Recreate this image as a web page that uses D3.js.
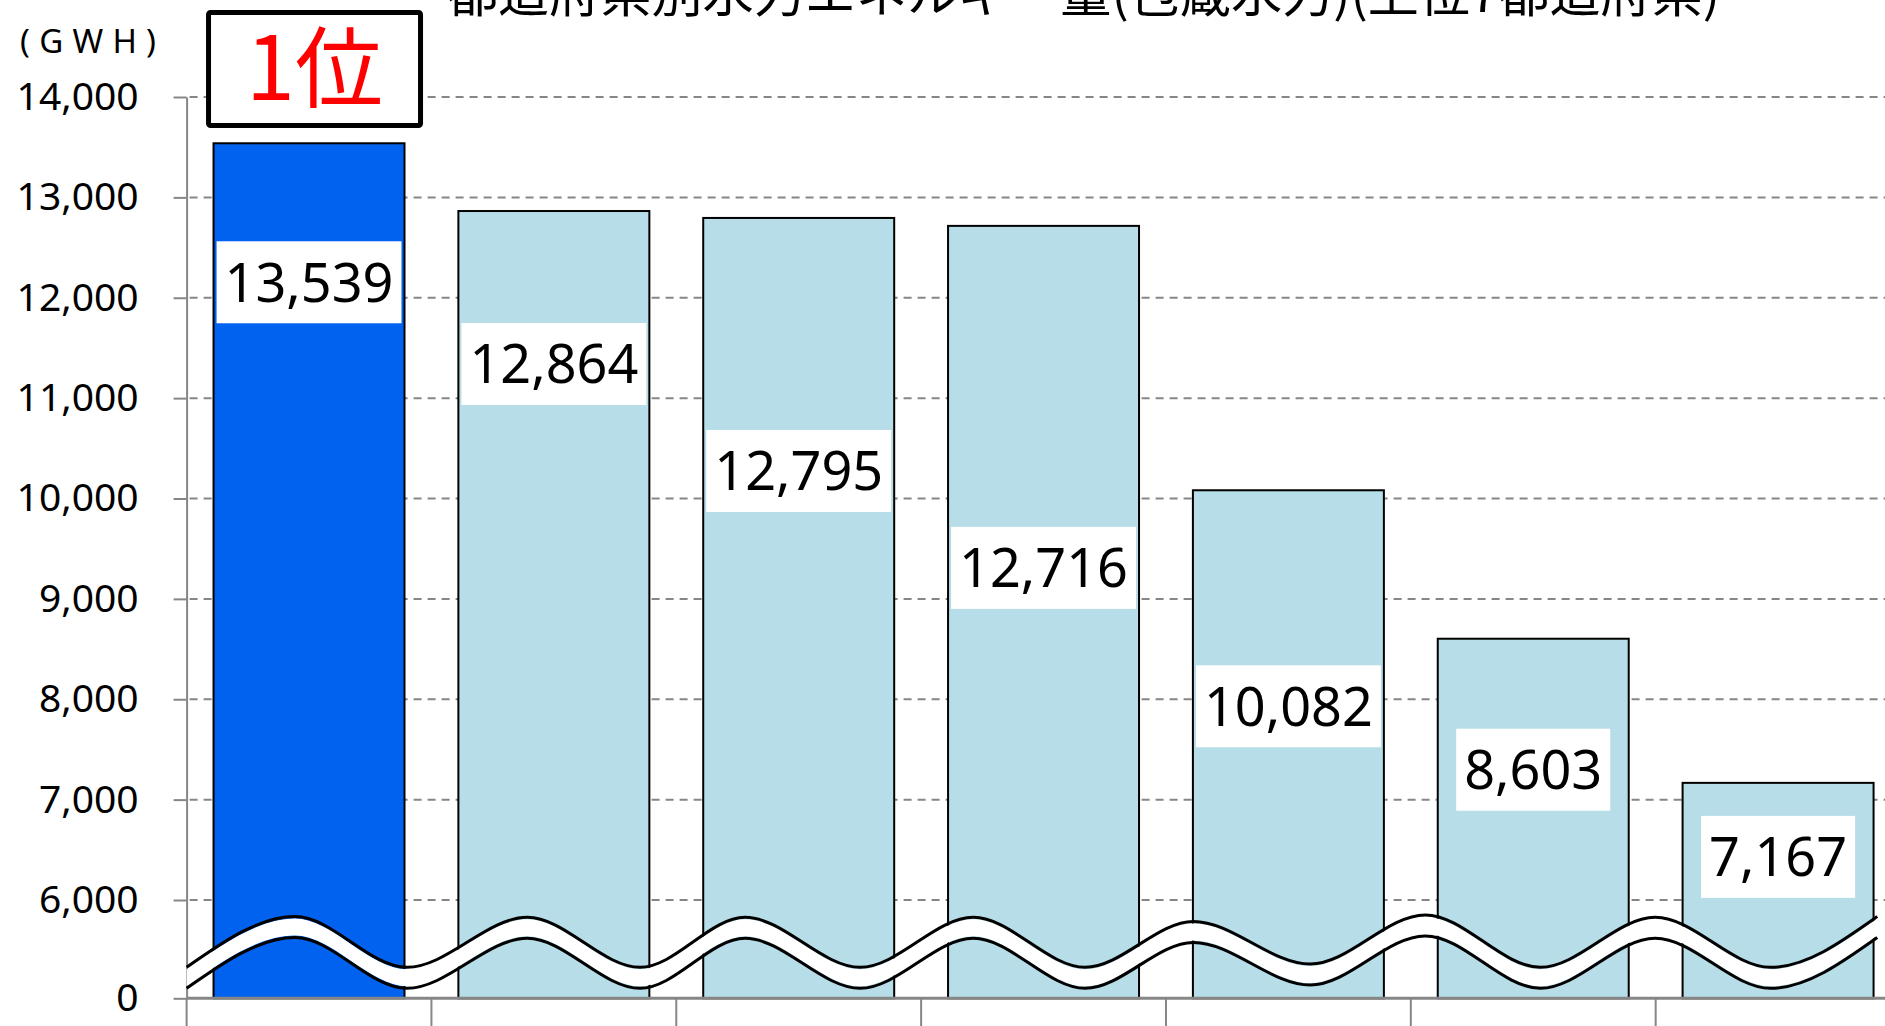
<!DOCTYPE html>
<html>
<head>
<meta charset="utf-8">
<script src="https://cdn.jsdelivr.net/npm/d3@7"></script>
<style>
  body { margin: 0; background: #fff; overflow: hidden; }
  svg { display: block; }
</style>
</head>
<body>
<div class="chart"></div>
<script>
// ---- data ----
const categories = ["1位", "2位", "3位", "4位", "5位", "6位", "7位"];
const values = [13539, 12864, 12795, 12716, 10082, 8603, 7167];
const yTickValues = [0, 6000, 7000, 8000, 9000, 10000, 11000, 12000, 13000, 14000];
const gridValues = [6000, 7000, 8000, 9000, 10000, 11000, 12000, 13000, 14000];
const titleText = "都道府県別水力エネルギー量(包蔵水力)(上位7都道府県)";
const unitText = "(GWH)";
const rankText = "1位";

// break mark (wavy line) nodes: position in category units, value on the squeezed 0-6000 part
const waveAt    = [0, 0.443, 0.900, 1.391, 1.852, 2.281, 2.751, 3.213, 3.670, 4.112, 4.589, 5.059, 5.529, 5.998, 6.469, 6.905];
const waveValue = [1250, 4350, 1250, 4300, 1250, 4300, 1250, 4300, 1250, 4050, 1450, 4450, 1250, 4300, 1250, 4350];

// how far (px) each value box centre hangs below its bar top
const labelDrop = [139, 153, 253, 342, 216, 131, 74];

var width = 1885,
    height = 1026,
    axisColor = "#868686";

var plot = {left: 186.6, right: 1900.5, top: 97, bottom: 998.3};

const svg = d3.select(".chart").append("svg")
    .attr("width", width)
    .attr("height", height);

// axis is broken: 0-6000 squeezed into the bottom strip
var y = d3.scaleLinear()
    .domain([0, 6000, 14000])
    .range([plot.bottom, 900, plot.top]);

var x = d3.scaleBand()
    .domain(categories)
    .range([plot.left, plot.right])
    .paddingInner(0.22)
    .paddingOuter(0.11);

var xPos = d3.scaleLinear()
    .domain([0, categories.length])
    .range([plot.left, plot.right]);

// gridlines
svg.append("g")
  .selectAll("line")
  .data(gridValues)
  .enter().append("line")
    .attr("x1", plot.left + 3)
    .attr("x2", width)
    .attr("y1", d => y(d))
    .attr("y2", d => y(d))
    .attr("stroke", axisColor)
    .attr("stroke-width", 2)
    .attr("stroke-dasharray", "8,6");

// bars
svg.append("g")
  .selectAll("rect")
  .data(values)
  .enter().append("rect")
    .attr("x", (d, i) => x(categories[i]))
    .attr("y", d => y(d))
    .attr("width", x.bandwidth())
    .attr("height", d => plot.bottom - y(d))
    .attr("fill", (d, i) => i === 0 ? "#0062EE" : "#B7DDE8")
    .attr("stroke", "#000")
    .attr("stroke-width", 2);

// y axis
var yAxis = svg.append("g")
    .attr("transform", `translate(${plot.left}, 0)`)
    .call(d3.axisLeft(y)
      .tickValues(yTickValues)
      .tickSize(13)
      .tickSizeOuter(0)
      .tickPadding(35)
      .tickFormat(d3.format(",")));

yAxis.select(".domain").attr("stroke", axisColor).attr("stroke-width", 2);
yAxis.selectAll(".tick line").attr("stroke", axisColor).attr("stroke-width", 2);
yAxis.selectAll(".tick text")
    .attr("fill", "#000")
    .attr("font-family", "'Noto Sans', 'Open Sans', sans-serif")
    .attr("font-size", "39px");

// x axis baseline + category boundary ticks
svg.append("line")
    .attr("x1", plot.left)
    .attr("x2", width)
    .attr("y1", plot.bottom)
    .attr("y2", plot.bottom)
    .attr("stroke", axisColor)
    .attr("stroke-width", 3);

svg.append("g")
  .selectAll("line")
  .data(d3.range(categories.length + 1))
  .enter().append("line")
    .attr("x1", d => xPos(d))
    .attr("x2", d => xPos(d))
    .attr("y1", plot.bottom)
    .attr("y2", height)
    .attr("stroke", axisColor)
    .attr("stroke-width", 2);

// wavy break mark
var wave = waveAt.map((d, i) => ({at: d, v: waveValue[i]}));

var band = d3.area()
    .curve(d3.curveMonotoneX)
    .x(d => xPos(d.at))
    .y0(d => y(d.v) - 8.5)
    .y1(d => y(d.v) + 8.5);

svg.append("path")
    .datum(wave)
    .attr("d", band)
    .attr("fill", "#fff");

[-10.5, 10.5].forEach(off => {
  let edge = d3.line()
    .curve(d3.curveMonotoneX)
    .x(d => xPos(d.at))
    .y(d => y(d.v) + off);
  svg.append("path")
    .datum(wave)
    .attr("d", edge)
    .attr("fill", "none")
    .attr("stroke", "#000")
    .attr("stroke-width", 3);
});

// value boxes
var labels = svg.append("g")
  .selectAll("g")
  .data(values)
  .enter().append("g")
    .attr("transform", (d, i) =>
      `translate(${x(categories[i]) + x.bandwidth() / 2}, ${y(d) + labelDrop[i]})`);

labels.append("rect")
    .attr("fill", "#fff");

labels.append("text")
    .attr("text-anchor", "middle")
    .attr("dy", "0.36em")
    .attr("font-family", "'Noto Sans', 'Open Sans', sans-serif")
    .attr("font-size", "54px")
    .attr("fill", "#000")
    .text(d => d3.format(",")(d))
    .each(function(d, i) {
      let w = this.getComputedTextLength() + 16;
      d3.select(this.parentNode).select("rect")
        .attr("x", -w / 2)
        .attr("y", -41)
        .attr("width", w)
        .attr("height", 82);
    });

// unit label
svg.append("text")
    .attr("x", 20)
    .attr("y", 53)
    .attr("textLength", 136)
    .attr("lengthAdjust", "spacing")
    .attr("font-family", "'Noto Sans', sans-serif")
    .attr("font-size", "33px")
    .attr("fill", "#000")
    .text(unitText);

// "1位" callout over the first bar
var rankBox = svg.append("g")
    .attr("transform", `translate(${x(categories[0]) - 5}, 12.5)`);

rankBox.append("rect")
    .attr("width", 212)
    .attr("height", 113)
    .attr("fill", "#fff")
    .attr("stroke", "#000")
    .attr("stroke-width", 5)
    .attr("rx", 2);

rankBox.append("text")
    .attr("x", 106)
    .attr("y", 56)
    .attr("dy", "0.36em")
    .attr("text-anchor", "middle")
    .attr("font-family", "'Noto Sans CJK JP', sans-serif")
    .attr("font-weight", 400)
    .attr("font-size", "88px")
    .attr("fill", "#FF0000")
    .text(rankText);

// title (cut off by the top edge in the original)
svg.append("text")
    .attr("x", 447)
    .attr("y", 12)
    .attr("textLength", 1273)
    .attr("lengthAdjust", "spacingAndGlyphs")
    .attr("font-family", "'Noto Sans CJK JP', sans-serif")
    .attr("font-size", "50px")
    .attr("fill", "#000")
    .text(titleText);
</script>
</body>
</html>
